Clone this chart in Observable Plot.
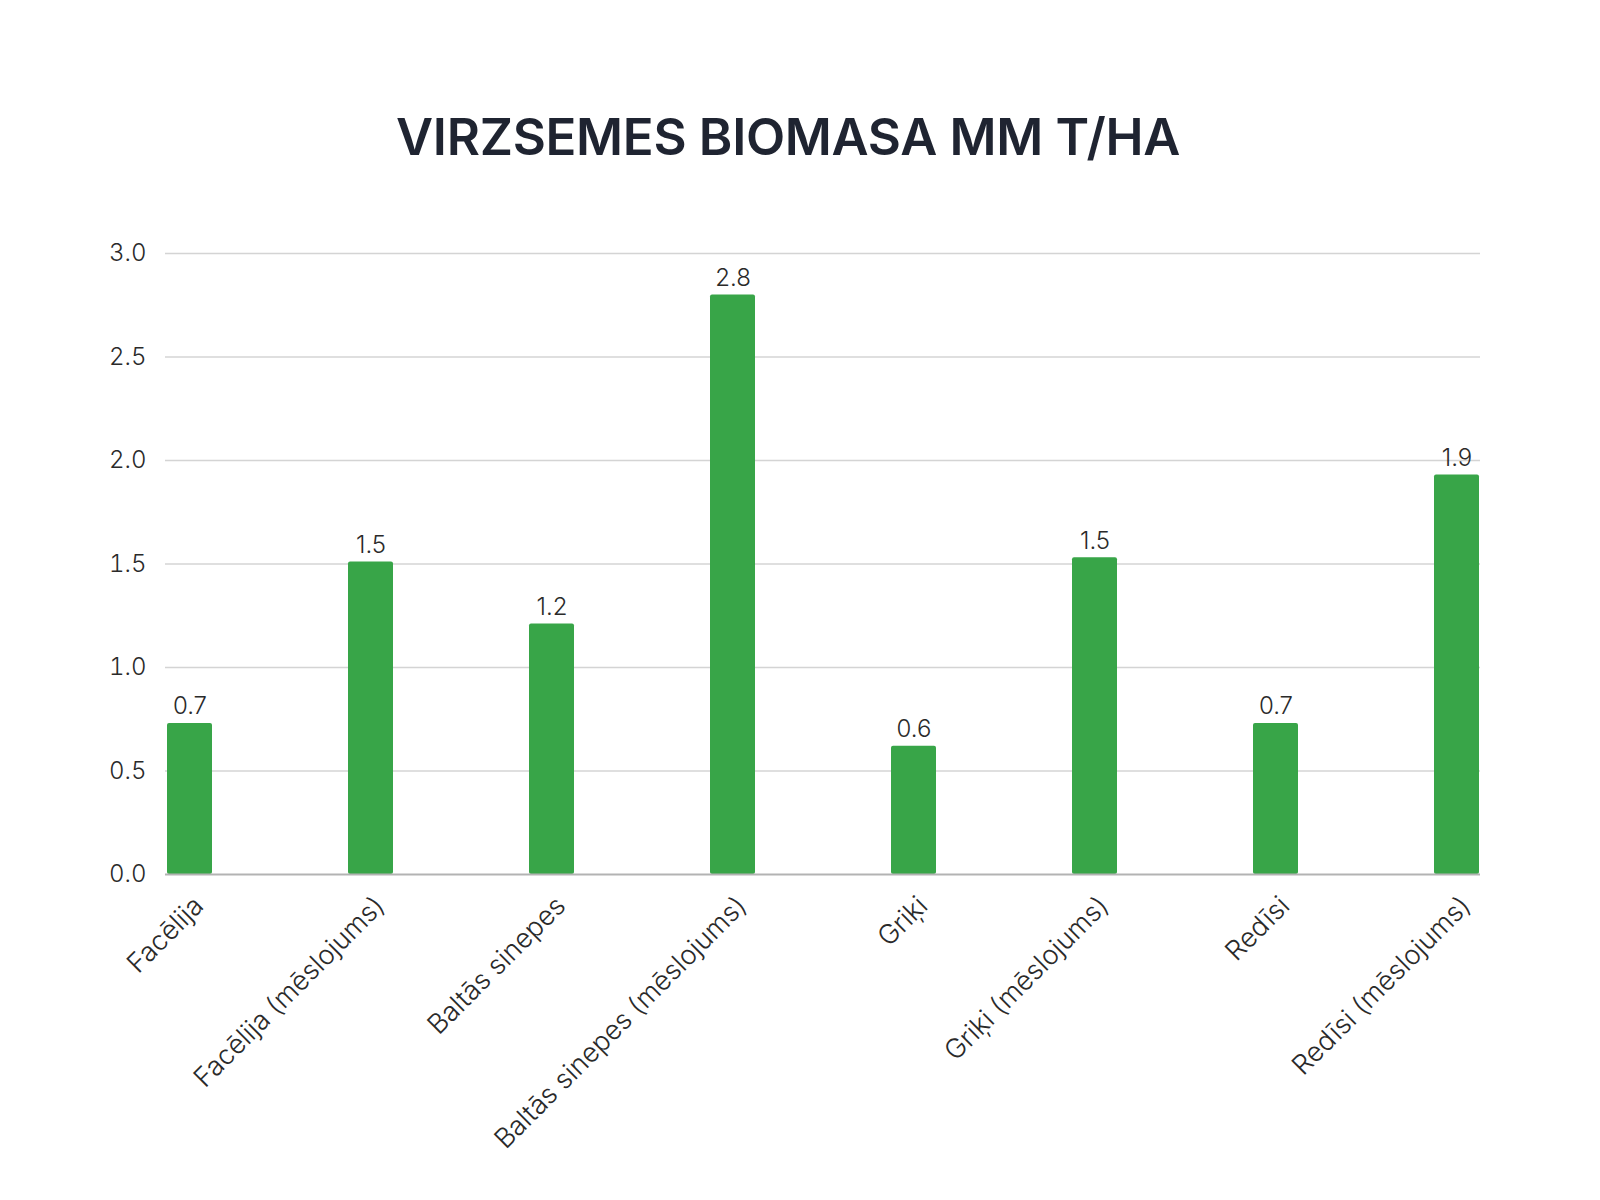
<!DOCTYPE html>
<html>
<head>
<meta charset="utf-8">
<script src="https://cdn.jsdelivr.net/npm/d3@7"></script>
<script src="https://cdn.jsdelivr.net/npm/@observablehq/plot@0.6"></script>
<style>
  html, body { margin: 0; padding: 0; background: #ffffff; }
  #page { position: relative; width: 1600px; height: 1200px; overflow: hidden; font-family: Inter, "Noto Sans", sans-serif; }
  #title { position: absolute; left: 0; top: 111px; width: 1576px; margin: 0; text-align: center;
           font-size: 51px; line-height: 1; font-weight: 600; color: #1f2431; letter-spacing: -0.3px; }
  #chart { position: absolute; left: 0; top: 200px; }
</style>
</head>
<body>
<div id="page">
  <h1 id="title">VIRZSEMES BIOMASA MM T/HA</h1>
  <div id="chart"></div>
</div>
<script>
const categories = [
  "Facēlija",
  "Facēlija (mēslojums)",
  "Baltās sinepes",
  "Baltās sinepes (mēslojums)",
  "Griķi",
  "Griķi (mēslojums)",
  "Redīsi",
  "Redīsi (mēslojums)"
];
const values = [0.73, 1.51, 1.21, 2.80, 0.62, 1.53, 0.73, 1.93];
const yTicks = [0, 0.5, 1.0, 1.5, 2.0, 2.5, 3.0];

const data = categories.map((c, i) => ({category: c, value: values[i]}));

const chart = Plot.plot({
  width: 1600,
  height: 1000,
  marginTop: 53,
  marginBottom: 326,
  marginLeft: 165,
  marginRight: 120,
  style: {fontFamily: "Inter, 'Noto Sans', sans-serif", fontSize: "23px", fontWeight: 300, color: "#2a2a2a", background: "transparent"},
  x: {domain: categories, paddingInner: 0.752, paddingOuter: 0, label: null},
  y: {domain: [0, 3], label: null},
  marks: [
    Plot.ruleY(yTicks.filter(d => d > 0), {stroke: "#d4d4d4", strokeWidth: 1.5}),
    Plot.barY(data, {x: "category", y: "value", fill: "#38a548", rx: 2}),
    Plot.ruleY([0], {stroke: "#b3b3b3", strokeWidth: 2}),
    Plot.text(data, {x: "category", y: "value", text: d => d.value.toFixed(1), dy: -9, lineAnchor: "bottom", fontSize: 24, fontWeight: 300, fill: "#2a2a2a"}),
    Plot.axisY({ticks: yTicks, tickFormat: ".1f", tickSize: 0, tickPadding: 19, fontSize: 24, fontWeight: 300, label: null}),
    Plot.axisX({tickRotate: -45, tickSize: 0, tickPadding: 27, dx: 9, fontSize: 27, fontWeight: 300, label: null})
  ]
});
document.getElementById("chart").appendChild(chart);
</script>
</body>
</html>
